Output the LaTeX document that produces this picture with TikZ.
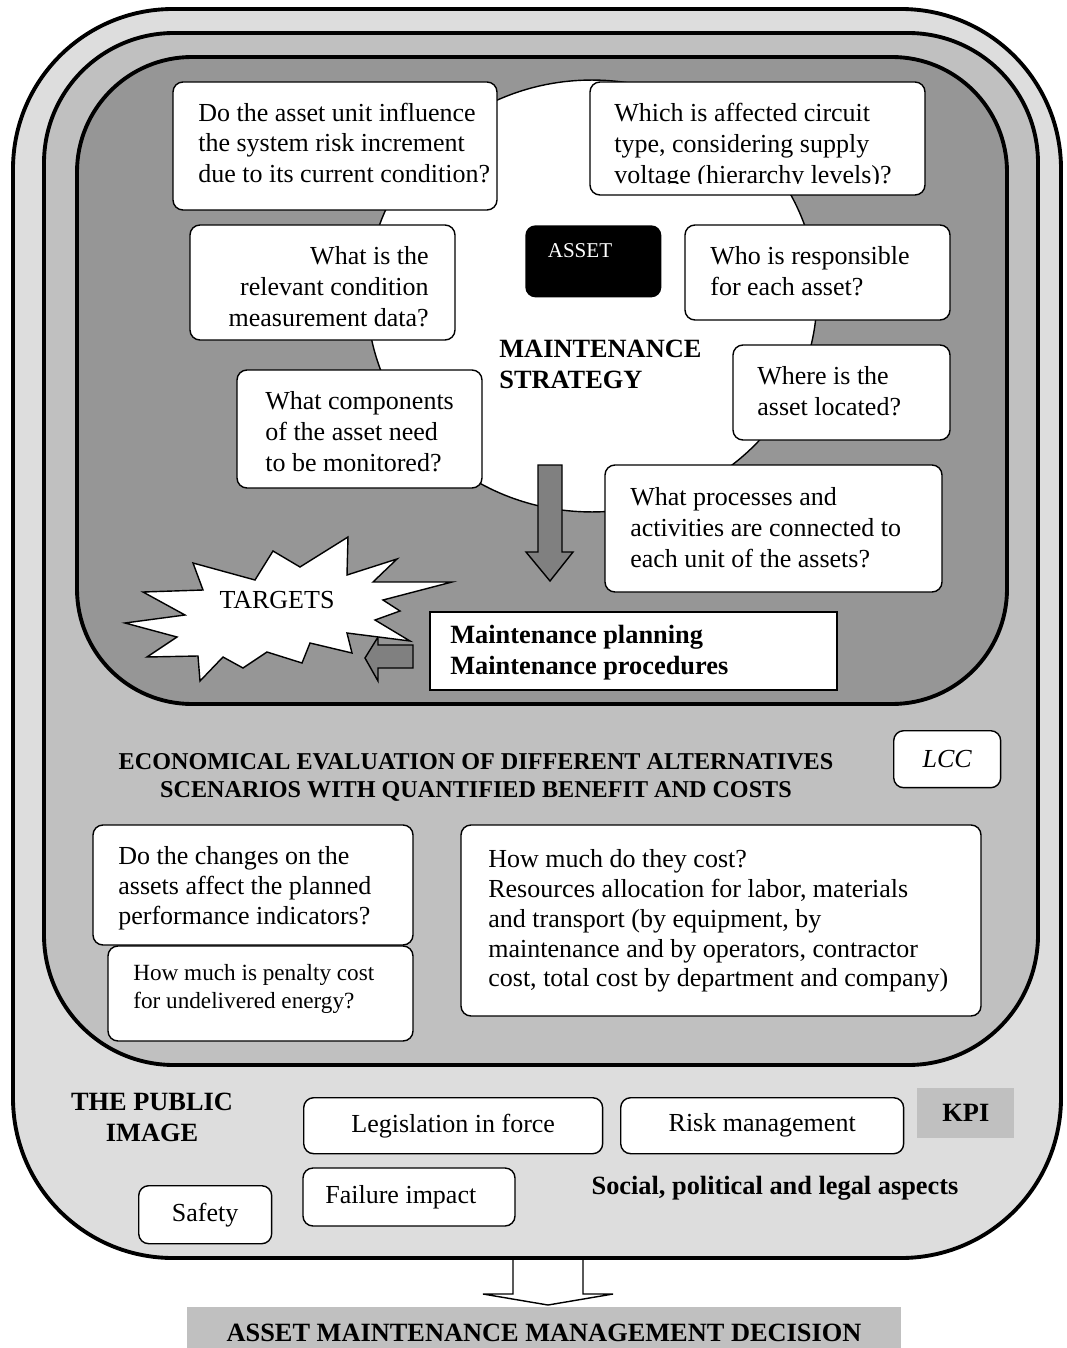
\documentclass[tikz,border=0pt]{standalone}
\usepackage{fontspec}
\setmainfont{Liberation Serif}
\usepackage{xcolor}
\usepackage{tikz}
\definecolor{frameA}{HTML}{DDDDDD}
\definecolor{frameB}{HTML}{C0C0C0}
\definecolor{frameC}{HTML}{969696}
\definecolor{arrowgray}{HTML}{808080}

\begin{document}
\begin{tikzpicture}[x = 0.02cm, y = -0.02cm,
        qbox/.style = {draw, fill = white, rounded corners = 0.2cm, line width = 0.8pt},
        qtext/.style = {anchor = west, align = left, inner sep = 0pt, font = \fontsize{14.8}{17.6}\selectfont},
        frame/.style = {draw, line width = 2.2pt},
        plain/.style = {font = \fontsize{14.8}{17.6}\selectfont},
        heading/.style = {font = \fontsize{15}{17.6}\selectfont\bfseries, align = center},
        blockarrow/.style = {draw, line width = 0.8pt}]
    \useasboundingbox (0, 0) rectangle (1066, 1348);

    % output arrow, under the frames
    \draw [blockarrow, fill = white] (513, 1250) -- (513, 1294) -- (483, 1294) -- (548, 1305) -- (613, 1294) -- (583, 1294) -- (583, 1250);

    \draw [frame, fill = frameA, rounded corners = 3.2cm] (13, 9) rectangle (1061, 1258);
    \draw [frame, fill = frameB, rounded corners = 2.6cm] (44, 33) rectangle (1038, 1065);
    \draw [frame, fill = frameC, rounded corners = 2.3cm] (77, 57) rectangle (1007, 704);
    \draw [fill = white, line width = 0.8pt] (592, 296) ellipse [x radius = 4.5cm, y radius = 4.32cm];

    % questions round the strategy
    \draw [qbox] (173, 82) rectangle (497, 210);
    \node (q1) at (198, 143) [qtext] {Do the asset unit influence\\ the system risk increment\\ due to its current condition?};
    \draw [qbox] (590, 82) rectangle (925, 195);
    \begin{scope}
        \clip (590, 82) rectangle (925, 184);
        \node (q2) at (614, 146) [qtext] {Which is affected circuit\\ type, considering supply\\ voltage (hierarchy levels)?};
    \end{scope}
    \draw [qbox] (190, 225) rectangle (455, 340);
    \node (q3) at (429, 287) [qtext, anchor = east, align = right] {What is the\\ relevant condition\\ measurement data?};
    \node (asset) at (525, 225) [anchor = north west, fill = black, rounded corners = 0.2cm, minimum width = 2.72cm, minimum height = 1.44cm] {};
    \node (assettext) at (580, 251) [text = white, font = \fontsize{12}{14}\selectfont] {ASSET};
    \draw [qbox] (685, 225) rectangle (950, 320);
    \node (q4) at (710, 271) [qtext] {Who is responsible\\ for each asset?};
    \node (strategy) at (499, 364) [qtext, font = \fontsize{15}{17.6}\selectfont\bfseries] {MAINTENANCE\\ STRATEGY};
    \draw [qbox] (733, 345) rectangle (950, 440);
    \node (q5) at (757, 391) [qtext] {Where is the\\ asset located?};
    \draw [qbox] (237, 370) rectangle (482, 488);
    \node (q6) at (265, 432) [qtext] {What components\\ of the asset need\\ to be monitored?};
    \draw [qbox] (605, 465) rectangle (942, 592);
    \node (q7) at (630, 528) [qtext] {What processes and\\ activities are connected to\\ each unit of the assets?};

    \draw [blockarrow, fill = arrowgray] (538, 465) -- (562, 465) -- (562, 552) -- (573, 552) -- (550, 581) -- (526, 552) -- (538, 552) -- cycle;
    \draw [blockarrow, fill = arrowgray] (413, 645) -- (378, 645) -- (378, 637) -- (365, 658) -- (378, 681) -- (378, 668) -- (413, 668) -- cycle;

    % targets burst
    \draw [fill = white, line width = 0.8pt] (125, 623) -- (185, 615) -- (143, 592) -- (203, 590) -- (193, 563) -- (255, 580) -- (273, 551) -- (300, 567) -- (348, 537) -- (347, 575) -- (397, 559) -- (373, 582) -- (452, 582) -- (383, 600) -- (400, 611) -- (375, 620) -- (410, 641) -- (347, 633) -- (352, 653) -- (310, 643) -- (302, 663) -- (267, 652) -- (243, 668) -- (223, 657) -- (200, 681) -- (198, 656) -- (147, 657) -- (177, 637) -- cycle;
    \node (targets) at (277, 600) [plain] {TARGETS};

    \draw [line width = 0.8pt, fill = white] (430, 612) rectangle (837, 690);
    \node (plan) at (450, 653) [qtext, font = \fontsize{15}{17.6}\selectfont\bfseries] {Maintenance planning\\ Maintenance procedures};

    % economical evaluation
    \node (econ) at (476, 777) [font = \fontsize{13.75}{15.9}\selectfont\bfseries, align = center] {ECONOMICAL EVALUATION OF DIFFERENT ALTERNATIVES\\ SCENARIOS WITH QUANTIFIED BENEFIT AND COSTS};
    \node (lcc) at (893, 730) [qbox, anchor = north west, minimum width = 2.14cm, minimum height = 1.14cm, font = \fontsize{14.8}{17.6}\selectfont\itshape] {LCC};
    \draw [qbox] (93, 825) rectangle (413, 945);
    \node (q8) at (118, 888) [qtext, font = \fontsize{14.8}{17}\selectfont] {Do the changes on the\\ assets affect the planned\\ performance indicators?};
    \draw [qbox] (108, 946) rectangle (413, 1041);
    \node (q9) at (133, 989) [qtext, font = \fontsize{13.2}{15.9}\selectfont] {How much is penalty cost\\ for undelivered energy?};
    \draw [qbox] (461, 825) rectangle (981, 1016);
    \node (q10) at (488, 921) [qtext, font = \fontsize{14.8}{17}\selectfont] {How much do they cost?\\ Resources allocation for labor, materials\\ and transport (by equipment, by\\ maintenance and by operators, contractor\\ cost, total cost by department and company)};

    % outer aspects
    \node (public) at (152, 1117) [heading] {THE PUBLIC\\ IMAGE};
    \node (law) at (303, 1097) [qbox, anchor = north west, minimum width = 5.98cm, minimum height = 1.12cm, plain] {Legislation in force};
    \node (risk) at (620, 1097) [qbox, anchor = north west, minimum width = 5.66cm, minimum height = 1.12cm, plain] {Risk management};
    \node (kpi) at (917, 1088) [anchor = north west, fill = frameB, minimum width = 1.94cm, minimum height = 1cm, font = \fontsize{15}{17.6}\selectfont\bfseries] {KPI};
    \draw [qbox] (303, 1168) rectangle (515, 1226);
    \node (failure) at (325, 1197) [qtext] {Failure impact};
    \node (safety) at (138, 1185) [qbox, anchor = north west, minimum width = 2.66cm, minimum height = 1.16cm, plain] {Safety};
    \begin{scope}
        \clip (560, 1160) rectangle (1000, 1199);
        \node (social) at (775, 1188) [heading] {Social, political and legal aspects};
    \end{scope}

    \node (decision) at (544, 1333) [fill = frameB, minimum width = 14.28cm, minimum height = 1.04cm, font = \fontsize{15}{17.6}\selectfont\bfseries] {ASSET MAINTENANCE MANAGEMENT DECISION};
\end{tikzpicture}
\end{document}
